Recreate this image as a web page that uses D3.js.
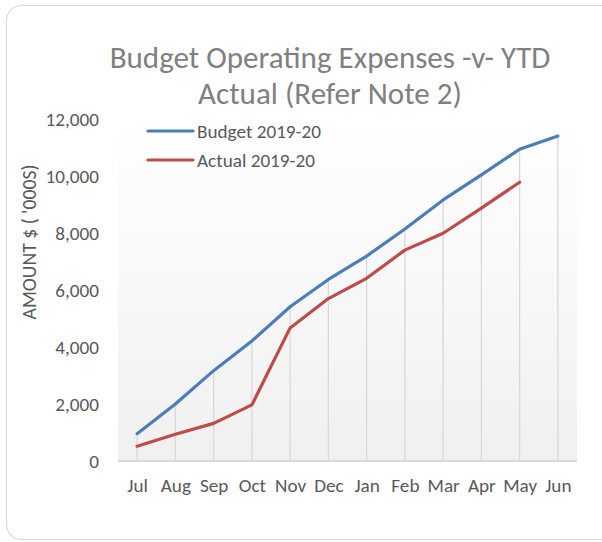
<!DOCTYPE html>
<html>
<head>
<meta charset="utf-8">
<script src="https://cdn.jsdelivr.net/npm/d3@7"></script>
<style>
  html, body { margin: 0; padding: 0; background: #fff; }
  svg { display: block; }
  text { font-family: Carlito, Calibri, Lato, "Open Sans", sans-serif; }
</style>
</head>
<body>
<script>
const months = ["Jul","Aug","Sep","Oct","Nov","Dec","Jan","Feb","Mar","Apr","May","Jun"];
const budget = [960, 2000, 3170, 4210, 5410, 6370, 7190, 8140, 9160, 10040, 10940, 11400];
const actual = [520, 940, 1320, 1970, 4670, 5700, 6410, 7400, 7990, 8870, 9780];
const yTicks = [0, 2000, 4000, 6000, 8000, 10000, 12000];
const seriesNames = ["Budget 2019-20", "Actual 2019-20"];
const seriesColors = ["#4A7EBB", "#BE4B48"];
const titleLines = ["Budget Operating Expenses -v- YTD", "Actual (Refer Note 2)"];
const yTitle = "AMOUNT $ ( '000S)";

const W = 602, H = 542;
const plot = { left: 118, right: 577, top: 119, bottom: 461 };
const FF = 'Carlito, Calibri, Lato, "Open Sans", sans-serif';

const svg = d3.select("body").append("svg").attr("width", W).attr("height", H);

// helper: font size making a text reach a target width
function fitSize(str, target, base) {
  const t = svg.append("text").attr("font-size", base).style("font-family", FF).text(str);
  const w = t.node().getComputedTextLength();
  t.remove();
  return base * target / w;
}
const labelFs = fitSize("Budget 2019-20", 124, 16);
const titleFs = fitSize(titleLines[0], 441, 25);
const yTitleFs = fitSize(yTitle, 155, 14);

const defs = svg.append("defs");
const grad = defs.append("linearGradient").attr("id", "bg").attr("x1", 0).attr("y1", 0).attr("x2", 0).attr("y2", 1);
grad.append("stop").attr("offset", "0%").attr("stop-color", "#ffffff");
grad.append("stop").attr("offset", "100%").attr("stop-color", "#f0f0f0");

// chart border
svg.append("rect").attr("x", 6.5).attr("y", 5.5).attr("width", 610).attr("height", 534)
  .attr("rx", 15).attr("fill", "#fff").attr("stroke", "#d9d9d9").attr("stroke-width", 1.2);

const x = d3.scalePoint().domain(months).range([plot.left, plot.right]).padding(0.5);
const y = d3.scaleLinear().domain([0, 12000]).range([plot.bottom, plot.top]);

svg.append("rect").attr("x", plot.left).attr("y", plot.top)
  .attr("width", plot.right - plot.left).attr("height", plot.bottom - plot.top)
  .attr("fill", "url(#bg)");

// drop lines
const maxVals = months.map((m, i) => d3.max([budget[i], actual[i]].filter(v => v != null)));
svg.append("g").selectAll("line").data(months).join("line")
  .attr("x1", d => x(d)).attr("x2", d => x(d))
  .attr("y1", (d, i) => y(maxVals[i])).attr("y2", plot.bottom)
  .attr("stroke", "#d9d9d9").attr("stroke-width", 1.3);

// x axis line
svg.append("line").attr("x1", plot.left).attr("x2", plot.right)
  .attr("y1", plot.bottom).attr("y2", plot.bottom)
  .attr("stroke", "#d9d9d9").attr("stroke-width", 2);

// y tick labels
const yAxis = d3.axisLeft(y).tickValues(yTicks).tickFormat(d3.format(",")).tickSize(0).tickPadding(0);
const gy = svg.append("g").attr("transform", "translate(99,0)").call(yAxis);
gy.select(".domain").remove();
gy.selectAll("text").attr("font-size", labelFs).attr("fill", "#595959")
  .style("font-family", FF);

// x labels
const xAxis = d3.axisBottom(x).tickSize(0).tickPadding(0);
const gx = svg.append("g").attr("transform", "translate(0,492)").call(xAxis);
gx.select(".domain").remove();
gx.selectAll("text").attr("font-size", labelFs).attr("fill", "#595959").attr("dy", 0)
  .style("font-family", FF);

// lines
const line = d3.line().x((d, i) => x(months[i])).y(d => y(d));
[budget, actual].forEach((s, k) => {
  svg.append("path").attr("d", line(s)).attr("fill", "none")
    .attr("stroke", seriesColors[k]).attr("stroke-width", 3.2)
    .attr("stroke-linejoin", "round").attr("stroke-linecap", "round");
});

// legend
const legY = [131, 160];
seriesNames.forEach((n, k) => {
  svg.append("line").attr("x1", 148).attr("x2", 193).attr("y1", legY[k]).attr("y2", legY[k])
    .attr("stroke", seriesColors[k]).attr("stroke-width", 3.2).attr("stroke-linecap", "round");
  svg.append("text").attr("x", 197).attr("y", legY[k]).attr("dy", "0.35em").attr("font-size", labelFs)
    .attr("fill", "#595959").text(n);
});

// title
const titleY = [68, 104];
titleLines.forEach((t, k) => {
  svg.append("text").attr("x", 330).attr("y", titleY[k]).attr("text-anchor", "middle")
    .attr("font-size", titleFs).attr("fill", "#808080").text(t);
});

// y axis title
svg.append("text").attr("transform", "translate(36,242) rotate(-90)").attr("text-anchor", "middle")
  .attr("font-size", yTitleFs).attr("fill", "#595959").text(yTitle);
</script>
</body>
</html>
